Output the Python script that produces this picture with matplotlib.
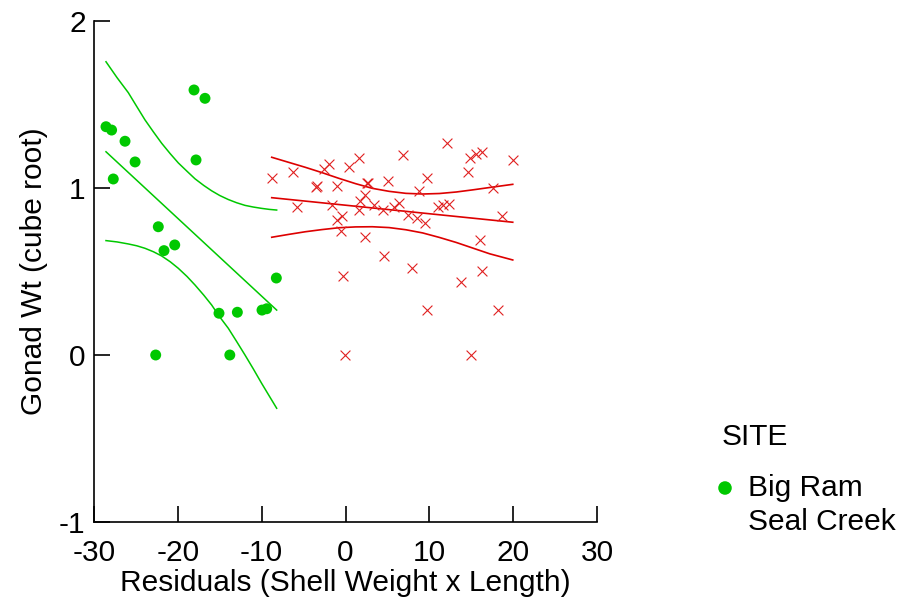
import matplotlib
matplotlib.use("Agg")
import matplotlib.pyplot as plt

plt.rcParams['font.family'] = ['Liberation Sans', 'DejaVu Sans']
plt.rcParams['axes.unicode_minus'] = False

# Big Ram site (green circles)
big_ram_x = [-28.57, -27.9, -26.3, -25.1, -27.7, -18.07, -16.76, -17.83, -22.33,
             -20.37, -21.65, -8.25, -15.09, -12.9, -9.96, -9.4, -22.64, -13.8]
big_ram_y = [1.367, 1.347, 1.28, 1.156, 1.054, 1.587, 1.537, 1.168, 0.768,
             0.659, 0.625, 0.461, 0.25, 0.256, 0.269, 0.277, 0.0, 0.0]

# Seal Creek site (red crosses)
seal_x = [-8.80, -6.22, -5.75, -3.55, -3.45, -2.56, -1.93, -0.98, -1.61, 0.38, 1.61,
          2.56, 2.66, 1.77, 2.33, 1.65, -0.38, -1.05, -0.57, 2.33, -0.26, -0.06,
          3.44, 4.51, 5.03, 6.90, 5.82, 6.42, 7.49, 8.49, 9.48, 8.77, 9.68, 4.63,
          7.97, 9.76, 12.14, 11.07, 11.59, 12.38, 13.74, 14.65, 14.85, 15.53,
          16.25, 16.08, 16.28, 14.93, 17.56, 18.67, 18.23, 19.95]
seal_y = [1.062, 1.094, 0.886, 1.006, 1.010, 1.114, 1.144, 1.012, 0.898, 1.128, 1.178,
          1.028, 1.032, 0.924, 0.956, 0.868, 0.834, 0.808, 0.741, 0.705, 0.473, 0.0,
          0.898, 0.868, 1.044, 1.198, 0.884, 0.912, 0.838, 0.818, 0.788, 0.984, 1.058, 0.593,
          0.519, 0.269, 1.268, 0.884, 0.898, 0.904, 0.435, 1.098, 1.178, 1.204,
          1.218, 0.689, 0.505, 0.0, 0.998, 0.834, 0.269, 1.168]

# Fitted lines and confidence bands
br_fit_x = [-28.57, -8.21]
br_fit_y = [1.217, 0.269]
br_band_x = [-28.57, -27.24, -25.91, -24.9, -23.92, -22.9, -21.93, -20.9, -19.94, -18.9,
             -17.95, -16.9, -15.96, -15.0, -13.98, -13.0, -11.99, -11.0, -10.0, -9.1, -8.21]
br_upper = [1.756, 1.660, 1.571, 1.488, 1.408, 1.335, 1.268, 1.205, 1.150, 1.100,
            1.055, 1.015, 0.983, 0.955, 0.931, 0.912, 0.896, 0.886, 0.878, 0.872, 0.868]
br_lower = [0.685, 0.677, 0.665, 0.654, 0.639, 0.618, 0.593, 0.558, 0.519, 0.470,
            0.419, 0.358, 0.299, 0.228, 0.160, 0.082, 0.0, -0.083, -0.170, -0.245, -0.319]

sc_fit_x = [-8.80, 19.95]
sc_fit_y = [0.942, 0.795]
sc_band_x = [-8.8, -6.8, -4.8, -2.8, -0.8, 1.2, 3.2, 5.2, 7.2, 9.2, 11.2, 13.2, 15.2, 17.2, 19.95]
sc_upper = [1.184, 1.154, 1.124, 1.092, 1.058, 1.026, 0.998, 0.980, 0.968, 0.964,
            0.967, 0.976, 0.989, 1.003, 1.022]
sc_lower = [0.705, 0.722, 0.738, 0.751, 0.762, 0.767, 0.768, 0.763, 0.750, 0.731,
            0.704, 0.674, 0.640, 0.606, 0.569]

x_ticks = [-30, -20, -10, 0, 10, 20, 30]
y_ticks = [-1, 0, 1, 2]

GREEN = '#00c800'
RED = '#dd0000'
FS = 21.5

fig = plt.figure(figsize=(9, 6.05), dpi=100)
ax = fig.add_axes([94/900, 1 - 522/605, (597-94)/900, (522-21)/605])

ax.plot(br_fit_x, br_fit_y, color=GREEN, lw=1.1)
ax.plot(br_band_x, br_upper, color=GREEN, lw=1.1)
ax.plot(br_band_x, br_lower, color=GREEN, lw=1.1)
ax.plot(sc_fit_x, sc_fit_y, color=RED, lw=1.2)
ax.plot(sc_band_x, sc_upper, color=RED, lw=1.2)
ax.plot(sc_band_x, sc_lower, color=RED, lw=1.2)

ax.scatter(big_ram_x, big_ram_y, s=62, color=GREEN, edgecolors='none', zorder=3)
ax.scatter(seal_x, seal_y, s=50, marker='x', color='#e02020', linewidths=0.8, zorder=3)

ax.set_xlim(-30, 30)
ax.set_ylim(-1, 2)
ax.set_xticks(x_ticks)
ax.set_yticks(y_ticks)
ax.spines['top'].set_visible(False)
ax.spines['right'].set_visible(False)
for sp in ('left', 'bottom'):
    ax.spines[sp].set_linewidth(1.2)
ax.tick_params(direction='in', length=11.5, width=1.2, labelsize=FS)
ax.tick_params(axis='x', pad=12)
ax.tick_params(axis='y', pad=6)
ax.set_xlabel('Residuals (Shell Weight x Length)', fontsize=FS, labelpad=2)
ax.set_ylabel('Gonad Wt (cube root)', fontsize=FS, labelpad=8)

# Legend
fig.text(722/900, 1 - 437/605, 'SITE', fontsize=FS, va='center', ha='left')
fig.text(748/900, 1 - 488/605, 'Big Ram', fontsize=FS, va='center', ha='left')
fig.text(748/900, 1 - 522/605, 'Seal Creek', fontsize=FS, va='center', ha='left')
lax = fig.add_axes([715/900, 1 - 498/605, 20/900, 20/605])
lax.set_xlim(0, 1)
lax.set_ylim(0, 1)
lax.axis('off')
lax.scatter([0.5], [0.5], s=95, color=GREEN, edgecolors='none')

fig.savefig('out.png', dpi=100)
